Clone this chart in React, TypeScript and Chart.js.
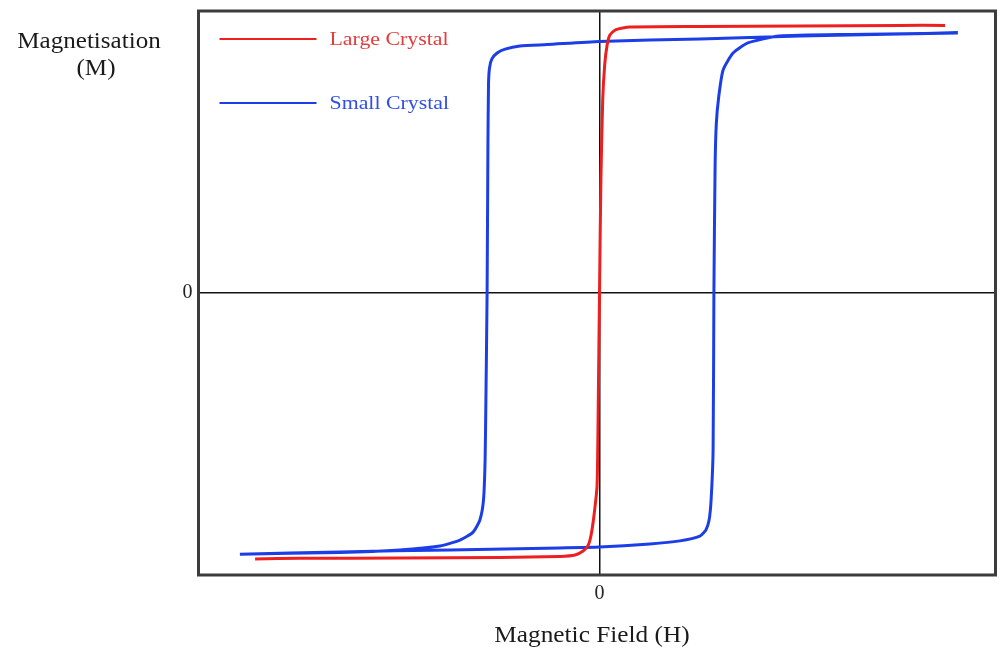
import React, { useEffect, useRef } from 'react';
import { Chart, registerables } from 'chart.js';

Chart.register(...registerables);

// ---- Data (arbitrary units: H in field units, M in magnetisation units) ----
const largeH = [-86.1, -74.9, -49.9, -24.9, -9.9, -6.1, -4.1, -2.9, -2.1, -1.3, -0.6, -0.3, 0, 0.35, 0.8, 1.3, 1.9, 2.6, 4.1, 7.6, 25.1, 50.1, 75.1, 86.4];
const largeM = [-94.3, -94.1, -94.0, -93.8, -93.4, -92.9, -91.5, -89.7, -85.8, -78.0, -68.1, -37.9, 0, 40.1, 68.4, 80.9, 87.9, 91.5, 93.4, 94.3, 94.5, 94.7, 94.9, 94.9];

const smallDownH = [89.6, 75.1, 50.1, 25.1, 0, -13.1, -19.9, -23.6, -25.6, -26.9, -27.5, -27.75, -27.9, -28.1, -28.4, -28.6, -29.0, -29.9, -31.6, -34.9, -39.9, -49.9, -64.9, -89.9];
const smallDownM = [92.2, 91.8, 91.1, 90.1, 89.2, 88.1, 87.6, 86.5, 85.1, 83.0, 79.8, 73.8, 50.7, 0, -37.9, -59.2, -73.4, -80.5, -84.8, -87.6, -89.7, -91.1, -92.0, -92.6];

const smallUpH = [-89.9, -64.9, -37.4, -9.9, 0, 12.6, 20.1, 25.1, 26.6, 27.4, 27.9, 28.4, 28.6, 28.9, 29.2, 29.8, 30.9, 33.4, 37.1, 44.9, 62.6, 89.6];
const smallUpM = [-92.6, -91.8, -91.1, -90.4, -90.1, -89.0, -87.9, -86.2, -84.0, -80.5, -73.4, -55.7, 0, 45.0, 60.0, 69.5, 79.1, 85.1, 88.7, 91.1, 91.7, 92.2];

const xTicks = [0];
const yTicks = [0];
const seriesLabels = ['Large Crystal', 'Small Crystal'];
const xTitle = 'Magnetic Field (H)';
const yTitleLines = ['Magnetisation', '(M)'];

const RED = '#ee1f1f';
const BLUE = '#1c3ee6';
const RED_TEXT = '#e43b3b';
const BLUE_TEXT = '#3050e2';
const FONT = '"Liberation Serif", "Times New Roman", serif';

const toPoints = (xs: number[], ys: number[]) => xs.map((x, i) => ({ x, y: ys[i] }));

const decorPlugin = {
  id: 'decor',
  afterDraw(chart: any) {
    const ctx: CanvasRenderingContext2D = chart.ctx;
    const a = chart.chartArea;
    ctx.save();
    // frame
    ctx.strokeStyle = '#3c3c3c';
    ctx.lineWidth = 3;
    ctx.strokeRect(a.left, a.top, a.right - a.left, a.bottom - a.top);

    const txt = (s: string, x: number, y: number, size: number, color: string, align: CanvasTextAlign, stretch: number) => {
      ctx.save();
      ctx.font = `${size}px ${FONT}`;
      ctx.fillStyle = color;
      ctx.textAlign = align;
      ctx.textBaseline = 'alphabetic';
      ctx.translate(x, y);
      ctx.scale(stretch, 1);
      ctx.fillText(s, 0, 0);
      ctx.restore();
    };

    // axis titles
    txt(yTitleLines[0], 89, 48, 23, '#1a1a1a', 'center', 1.09);
    txt(yTitleLines[1], 96, 75, 23, '#1a1a1a', 'center', 1.09);
    txt(xTitle, 592, 642, 23, '#1a1a1a', 'center', 1.1);

    // legend
    const ds = chart.data.datasets;
    const rows = [
      { y: a.top + 28, color: ds[0].borderColor, tcolor: RED_TEXT, label: ds[0].label },
      { y: a.top + 92, color: ds[1].borderColor, tcolor: BLUE_TEXT, label: ds[1].label },
    ];
    rows.forEach((r) => {
      ctx.strokeStyle = r.color;
      ctx.lineWidth = 2;
      ctx.beginPath();
      ctx.moveTo(a.left + 21, r.y);
      ctx.lineTo(a.left + 118, r.y);
      ctx.stroke();
      txt(r.label, a.left + 131, r.y + 6, 19, r.tcolor, 'left', 1.15);
    });
    ctx.restore();
  },
};

export default function App() {
  const ref = useRef<HTMLCanvasElement | null>(null);

  useEffect(() => {
    if (!ref.current) return;
    const chart = new Chart(ref.current, {
      type: 'scatter',
      data: {
        datasets: [
          {
            label: seriesLabels[0],
            data: toPoints(largeH, largeM),
            showLine: true,
            borderColor: RED,
            backgroundColor: RED,
            borderWidth: 3,
            pointRadius: 0,
            tension: 0.2,
          },
          {
            label: seriesLabels[1],
            data: [...toPoints(smallDownH, smallDownM), ...toPoints(smallUpH, smallUpM)],
            showLine: true,
            borderColor: BLUE,
            backgroundColor: BLUE,
            borderWidth: 3,
            pointRadius: 0,
            tension: 0.2,
          },
        ],
      },
      options: {
        responsive: false,
        animation: false,
        layout: { padding: { top: 11, right: 5.5, left: 0, bottom: 0 } },
        plugins: { legend: { display: false }, tooltip: { enabled: false } },
        scales: {
          x: {
            type: 'linear',
            min: -100.25,
            max: 99,
            afterBuildTicks: (s: any) => {
              s.ticks = xTicks.map((v) => ({ value: v }));
            },
            afterFit: (s: any) => {
              s.height = 77;
              s.paddingLeft = 0;
              s.paddingRight = 0;
            },
            grid: { color: '#111', lineWidth: 1.5, drawTicks: false },
            border: { display: false },
            ticks: {
              padding: 7,
              color: '#222',
              font: { family: FONT, size: 20 },
              callback: (v: any) => String(v),
            },
          },
          y: {
            type: 'linear',
            min: -100,
            max: 100,
            afterBuildTicks: (s: any) => {
              s.ticks = yTicks.map((v) => ({ value: v }));
            },
            afterFit: (s: any) => {
              s.width = 198.5;
              s.paddingTop = 0;
              s.paddingBottom = 0;
            },
            grid: { color: '#111', lineWidth: 1.5, drawTicks: false },
            border: { display: false },
            ticks: {
              padding: 6,
              color: '#222',
              font: { family: FONT, size: 20 },
              callback: (v: any) => String(v),
            },
          },
        },
      },
      plugins: [decorPlugin],
    });
    return () => chart.destroy();
  }, []);

  return (
    <div style={{ position: 'fixed', left: 0, top: 0, width: 1001, height: 652, background: '#fff' }}>
      <canvas ref={ref} width={1001} height={652} style={{ display: 'block' }} />
    </div>
  );
}
